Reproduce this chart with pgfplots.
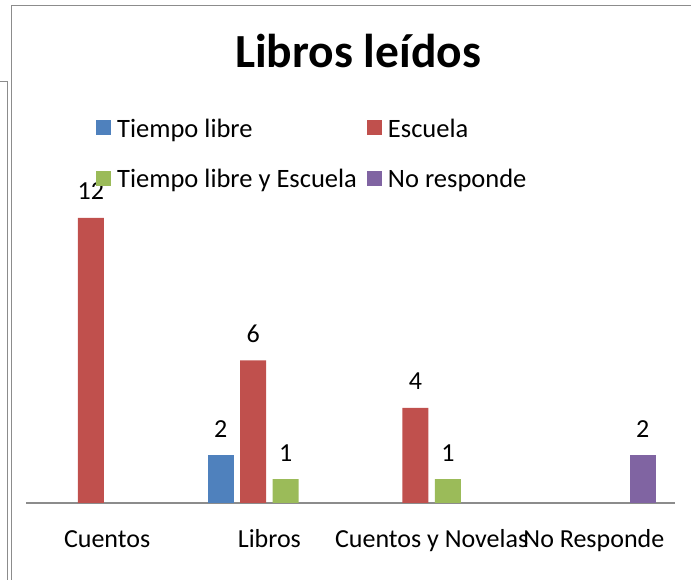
\documentclass[border=0pt]{standalone}
\usepackage{pgfplots}
\pgfplotsset{compat=1.18}
\usepackage{fontspec}
\setmainfont{Carlito}
\definecolor{c1}{HTML}{4F81BD}
\definecolor{c2}{HTML}{C0504D}
\definecolor{c3}{HTML}{9BBB59}
\definecolor{c4}{HTML}{8064A2}
\definecolor{framegray}{HTML}{8C8C8C}
\definecolor{axisgray}{HTML}{8C8C8C}
\begin{document}
\begin{tikzpicture}
\useasboundingbox (0,0) rectangle (691pt,580pt);
\begin{scope}
\clip (0,0) rectangle (691pt,580pt);
\draw[framegray, line width=1.5pt] (11.5pt,-10pt) -- (11.5pt,574.5pt) -- (700pt,574.5pt);
\draw[framegray, line width=1.5pt] (-5pt,498.5pt) -- (7.5pt,498.5pt) -- (7.5pt,-10pt);
\end{scope}
\begin{axis}[
  at={(26pt,77pt)}, anchor=south west,
  scale only axis, width=649pt, height=308.75pt,
  xmin=-0.5, xmax=3.5, ymin=0, ymax=13,
  ybar=6.5pt, bar width=26pt,
  clip=false,
  /pgf/number format/assume math mode=true,
  axis x line*=bottom, axis y line=none,
  every outer x axis line/.append style={-},
  x axis line style={-, draw=axisgray, line width=1.5pt},
  xtick={0,1,2,3},
  xticklabels={Cuentos,Libros,Cuentos y Novelas,No Responde},
  xtick style={draw=none},
  major tick length=0pt,
  ytick=\empty,
  x tick label style={font=\fontsize{26}{31}\selectfont, anchor=base, yshift=-45pt},
  nodes near coords,
  every node near coord/.append style={font=\fontsize{26}{31}\selectfont, anchor=base, yshift=18pt, inner sep=0pt},
  title={Libros leídos},
  title style={at={(0.5116,1.3895)}, anchor=base, font=\fontsize{47.5}{56}\selectfont\bfseries, inner sep=0pt},
  legend columns=2,
  legend cell align=left,
  legend image code/.code={\path[#1, draw=none] (0pt,-7.5pt) rectangle (15pt,7.5pt);},
  legend style={at={(0.1079,1.245)}, anchor=north west, draw=none, fill=none,
    font=\fontsize{26.5}{31}\selectfont, inner sep=0pt, row sep=32pt,
    nodes={inner sep=0pt, text depth=0pt},
    /tikz/every odd column/.append style={column sep=6pt},
    /tikz/every even column/.append style={column sep=10pt}},
]
\addplot[fill=c1, draw=none] coordinates {(1,2)};
\addplot[fill=c2, draw=none] coordinates {(0,12) (1,6) (2,4)};
\addplot[fill=c3, draw=none] coordinates {(1,1) (2,1)};
\addplot[fill=c4, draw=none] coordinates {(3,2)};
\legend{Tiempo libre, Escuela, Tiempo libre y Escuela, No responde}
\end{axis}
\end{tikzpicture}
\end{document}
